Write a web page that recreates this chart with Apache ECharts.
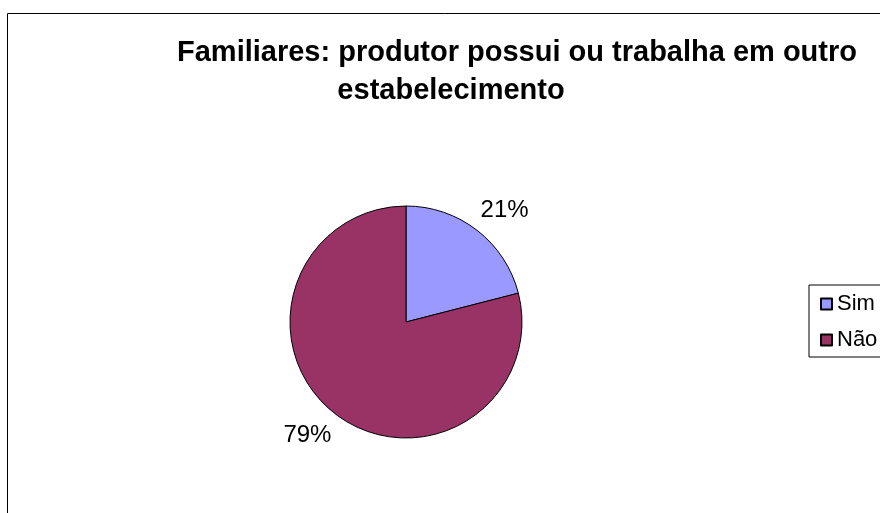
<!DOCTYPE html>
<html>
<head>
<meta charset="utf-8">
<script src="https://cdn.jsdelivr.net/npm/echarts@6/dist/echarts.min.js"></script>
<style>
  html, body { margin: 0; padding: 0; background: #fff; }
  #chart { width: 880px; height: 513px; }
</style>
</head>
<body>
<div id="chart"></div>
<script>
var categories = ['Sim', 'Não'];
var values = [21, 79];
var colors = ['#9999FF', '#993366'];
var titleLines = ['Familiares: produtor possui ou trabalha em outro', 'estabelecimento'];

var myChart = echarts.init(document.getElementById('chart'));
var font = '"Liberation Sans", Arial, sans-serif';

var option = {
  animation: false,
  backgroundColor: '#fff',
  graphic: [
    {
      type: 'rect',
      shape: { x: 7.5, y: 13.5, width: 1000, height: 700 },
      style: { fill: 'none', stroke: '#000', lineWidth: 1 },
      silent: true
    },
    {
      type: 'text', x: 517, y: 53,
      style: { text: titleLines[0], font: 'bold 29px ' + font, fill: '#000', textAlign: 'center', textVerticalAlign: 'middle' }
    },
    {
      type: 'text', x: 451, y: 91,
      style: { text: titleLines[1], font: 'bold 29px ' + font, fill: '#000', textAlign: 'center', textVerticalAlign: 'middle' }
    }
  ],
  legend: {
    orient: 'vertical',
    left: 809,
    top: 285,
    padding: [8, 80, 6, 11],
    borderColor: '#000',
    borderWidth: 1,
    itemWidth: 11,
    itemHeight: 11,
    itemGap: 14,
    icon: 'rect',
    textStyle: { fontFamily: font, fontSize: 22, color: '#000' },
    data: categories
  },
  series: [{
    type: 'pie',
    center: [406, 322],
    radius: 116,
    startAngle: 90,
    clockwise: true,
    itemStyle: { borderColor: '#000', borderWidth: 1 },
    emphasis: { disabled: true },
    label: {
      show: true,
      position: 'outside',
      formatter: '{d}%',
      fontFamily: font,
      fontSize: 24,
      color: '#000'
    },
    labelLine: { show: false, length: 22, length2: 0 },
    labelLayout: function (params) {
      if (params.dataIndex === 0) return { dx: -15, dy: -3 };
      return { dx: 15, dy: 4 };
    },
    data: categories.map(function (c, i) {
      return { name: c, value: values[i], itemStyle: { color: colors[i] } };
    })
  }]
};

myChart.setOption(option);
</script>
</body>
</html>
